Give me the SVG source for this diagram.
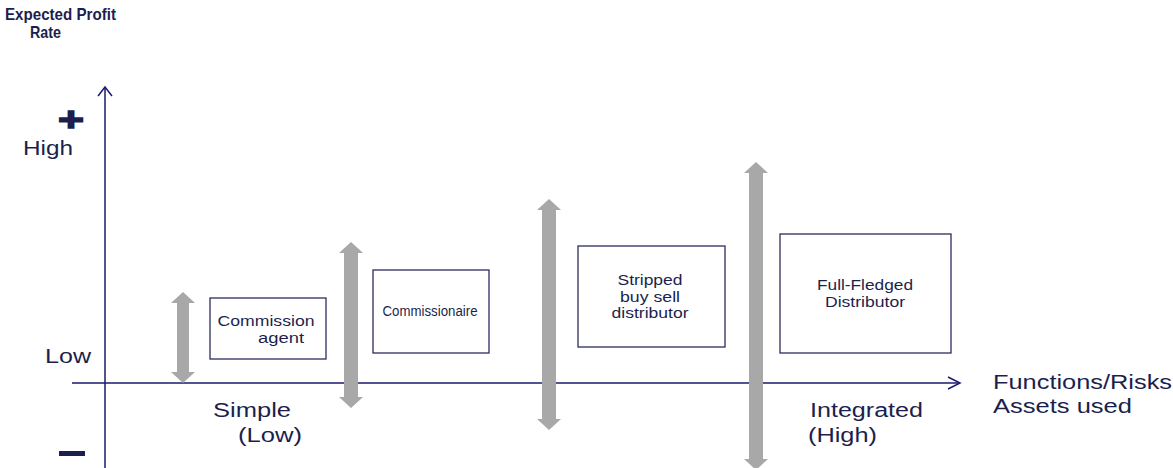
<svg xmlns="http://www.w3.org/2000/svg" width="1173" height="468" viewBox="0 0 1173 468">
<style>
  .t { font-family: "Liberation Sans", Arial, sans-serif; fill: #1c1f4e; }
  .lbl { font-size: 20px; }
  .box { fill: #ffffff; stroke: #2b2d5c; stroke-width: 1.3; }
  .bt { font-size: 14px; text-anchor: middle; }
  .ax { stroke: #1a1a6e; stroke-width: 1.5; fill: none; }
  .dbl { fill: #a8a8a8; }
</style>
<rect width="1173" height="468" fill="#ffffff"/>

<g id="axes">
  <line class="ax" x1="105" y1="468" x2="105" y2="88"/>
  <polyline class="ax" points="98,96 105,87 112,96"/>
  <line class="ax" x1="72" y1="383" x2="959" y2="383"/>
  <polyline class="ax" points="948,377 960,383 948,389"/>
</g>

<g id="axis-labels">
  <text class="t" x="5" y="20" font-size="16.5" font-weight="bold" textLength="111" lengthAdjust="spacingAndGlyphs">Expected Profit</text>
  <text class="t" x="30" y="38" font-size="16.5" font-weight="bold" textLength="31" lengthAdjust="spacingAndGlyphs">Rate</text>
  <text class="t" x="58" y="131" font-size="34" font-weight="bold" stroke="#1c1f4e" stroke-width="1.5" textLength="26" lengthAdjust="spacingAndGlyphs">+</text>
  <text class="t lbl" x="23" y="155" textLength="50" lengthAdjust="spacingAndGlyphs">High</text>
  <text class="t lbl" x="45" y="363" textLength="46" lengthAdjust="spacingAndGlyphs">Low</text>
  <rect x="59" y="451" width="26" height="5" fill="#1c1f4e"/>
  <text class="t lbl" x="213" y="417" textLength="78" lengthAdjust="spacingAndGlyphs">Simple</text>
  <text class="t lbl" x="238" y="442" textLength="64" lengthAdjust="spacingAndGlyphs">(Low)</text>
  <text class="t lbl" x="810" y="417" textLength="113" lengthAdjust="spacingAndGlyphs">Integrated</text>
  <text class="t lbl" x="808" y="442" textLength="69" lengthAdjust="spacingAndGlyphs">(High)</text>
  <text class="t lbl" x="993" y="389" textLength="179" lengthAdjust="spacingAndGlyphs">Functions/Risks</text>
  <text class="t lbl" x="993" y="413" textLength="139" lengthAdjust="spacingAndGlyphs">Assets used</text>
</g>

<g id="connectors">
  <polygon class="dbl" points="183,292 195,303 189,303 189,372 195,372 183,383 171,372 177,372 177,303 171,303"/>
  <polygon class="dbl" points="351,242 363,253 358,253 358,397 363,397 351,408 339,397 344,397 344,253 339,253"/>
  <polygon class="dbl" points="549,199 561,210 556,210 556,419 561,419 549,430 537,419 542,419 542,210 537,210"/>
  <polygon class="dbl" points="756,162 768,173 763,173 763,459 768,459 756,470 744,459 749,459 749,173 744,173"/>
</g>

<g id="node-commission-agent">
  <rect class="box" x="210" y="298" width="116" height="61"/>
  <text class="t bt" x="266" y="326" textLength="97" lengthAdjust="spacingAndGlyphs">Commission</text>
  <text class="t bt" x="281" y="343" textLength="46" lengthAdjust="spacingAndGlyphs">agent</text>
</g>

<g id="node-commissionaire">
  <rect class="box" x="373" y="270" width="116" height="83"/>
  <text class="t bt" x="430" y="316" textLength="95" lengthAdjust="spacingAndGlyphs">Commissionaire</text>
</g>

<g id="node-stripped">
  <rect class="box" x="578" y="246" width="147" height="101"/>
  <text class="t bt" x="650" y="285" textLength="65" lengthAdjust="spacingAndGlyphs">Stripped</text>
  <text class="t bt" x="650" y="302" textLength="60" lengthAdjust="spacingAndGlyphs">buy sell</text>
  <text class="t bt" x="650" y="318" textLength="77" lengthAdjust="spacingAndGlyphs">distributor</text>
</g>

<g id="node-full-fledged">
  <rect class="box" x="780" y="234" width="171" height="119"/>
  <text class="t bt" x="865" y="290" textLength="96" lengthAdjust="spacingAndGlyphs">Full-Fledged</text>
  <text class="t bt" x="865" y="307" textLength="80" lengthAdjust="spacingAndGlyphs">Distributor</text>
</g>
</svg>
